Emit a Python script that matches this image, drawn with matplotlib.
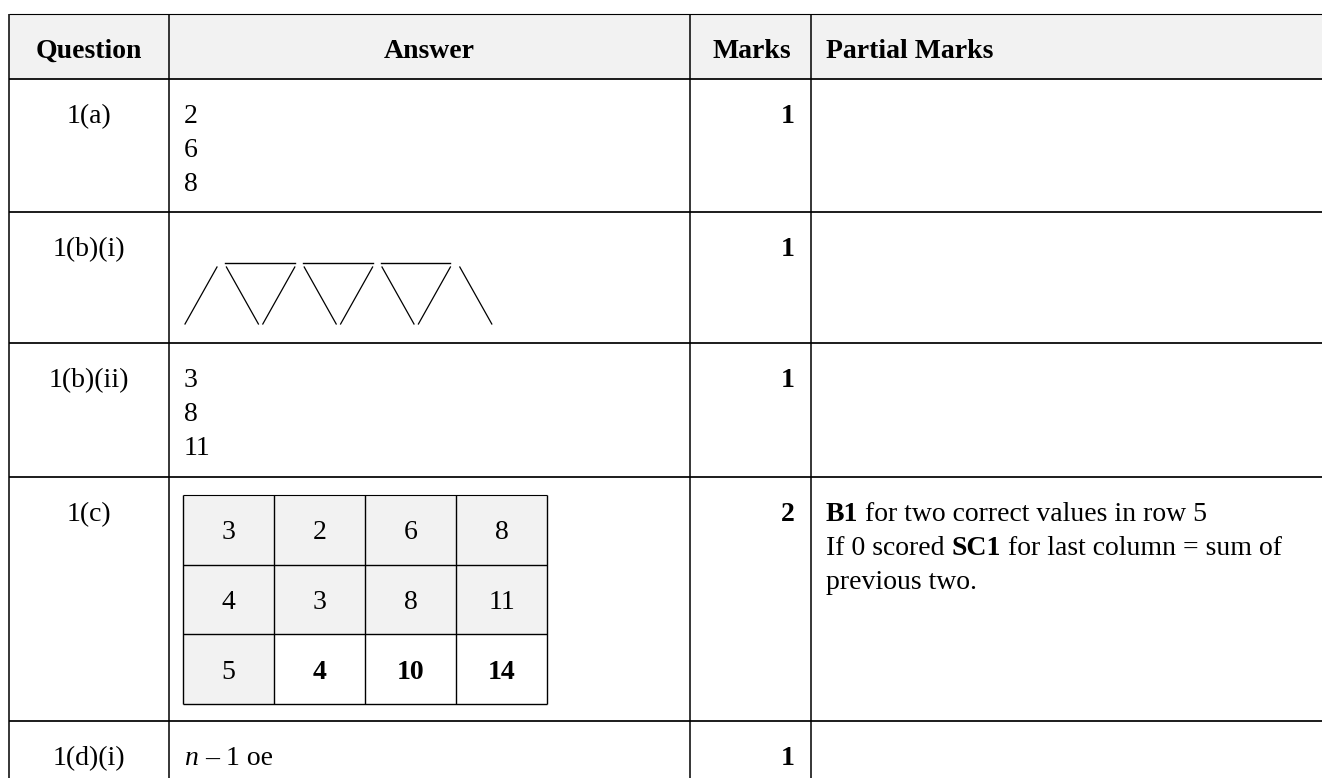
import matplotlib
matplotlib.use("Agg")
import matplotlib.pyplot as plt
from matplotlib.patches import Rectangle

# ---------------- data ----------------
headers = ["Question", "Answer", "Marks", "Partial Marks"]
questions = ["1(a)", "1(b)(i)", "1(b)(ii)", "1(c)", "1(d)(i)"]
answers_1a = ["2", "6", "8"]
answers_1bii = ["3", "8", "11"]
marks = ["1", "1", "1", "2", "1"]
grid_values = [["3", "2", "6", "8"],
               ["4", "3", "8", "11"],
               ["5", "4", "10", "14"]]
grid_given = [[True, True, True, True],
              [True, True, True, True],
              [True, False, False, False]]
partial_1c = [[("B1", "bold"), (" for two correct values in row 5", "normal")],
              [("If 0 scored ", "normal"), ("SC1", "bold"), (" for last column = sum of", "normal")],
              [("previous two.", "normal")]]
answer_1di = [("n", "italic"), (" \u2013 1 oe", "normal")]
n_sticks = 8          # slanted matchsticks in 1(b)(i)
n_bars = 3            # horizontal matchsticks

# ---------------- figure ----------------
W, H = 1322, 778
fig = plt.figure(figsize=(W / 100, H / 100), dpi=100)
ax = fig.add_axes([0, 0, 1, 1])
ax.set_xlim(0, W)
ax.set_ylim(H, 0)
ax.axis("off")

FONT = "Liberation Serif"
FS = 20
SHADE = "#f2f2f2"

x_left, x_c1, x_c2, x_c3, x_right = 9, 169, 690, 811, W
y_top, y_head = 14, 79
row_tops = [79, 212, 343, 477, 721]
BASE = 44
LINE = 34

# header shading
ax.add_patch(Rectangle((x_left, y_top), x_right - x_left, y_head - y_top,
                       facecolor=SHADE, edgecolor="none", zorder=0))

# grid lines
ax.plot([x_left, x_right], [y_top, y_top], color="black", lw=0.8, solid_capstyle="butt")
for y in row_tops:
    ax.plot([x_left, x_right], [y, y], color="black", lw=1.25, solid_capstyle="butt")
for x in (x_left, x_c1, x_c2, x_c3):
    ax.plot([x, x], [y_top, H], color="black", lw=1.1, solid_capstyle="butt")

# header text
hb = 58
ax.text((x_left + x_c1) / 2, hb, headers[0], family=FONT, fontsize=FS, weight="bold",
        ha="center", va="baseline")
ax.text((x_c1 + x_c2) / 2, hb, headers[1], family=FONT, fontsize=FS, weight="bold",
        ha="center", va="baseline")
ax.text(x_c3 - 20, hb, headers[2], family=FONT, fontsize=FS, weight="bold",
        ha="right", va="baseline")
ax.text(x_c3 + 15, hb, headers[3], family=FONT, fontsize=FS, weight="bold",
        ha="left", va="baseline")

# question labels and marks
for i, (q, m) in enumerate(zip(questions, marks)):
    yb = row_tops[i] + BASE
    ax.text((x_left + x_c1) / 2, yb, q, family=FONT, fontsize=FS, ha="center", va="baseline")
    ax.text(x_c3 - 16, yb, m, family=FONT, fontsize=FS, weight="bold", ha="right", va="baseline")

ax_x = x_c1 + 15
# 1(a)
for j, s in enumerate(answers_1a):
    ax.text(ax_x, row_tops[0] + BASE + j * LINE, s, family=FONT, fontsize=FS, va="baseline")
# 1(b)(ii)
for j, s in enumerate(answers_1bii):
    ax.text(ax_x, row_tops[2] + BASE + j * LINE, s, family=FONT, fontsize=FS, va="baseline")

# 1(b)(i) matchstick pattern
step, dx = 38.9, 32
y_hi, y_lo, y_bar = 267, 324, 263
tops = []
for k in range(n_sticks):
    left = 185 + k * step + (2.5 if k % 2 else 0)
    if k % 2 == 0:   # '/'
        xs, ys = [left, left + dx], [y_lo, y_hi]
        tops.append(left + dx)
    else:            # '\'
        xs, ys = [left, left + dx], [y_hi, y_lo]
        tops.append(left)
    ax.plot(xs, ys, color="black", lw=0.9)
for j in range(n_bars):
    ax.plot([tops[2 * j + 1] - 1, tops[2 * j + 2]], [y_bar, y_bar], color="black", lw=1.0)

fig.canvas.draw()
renderer = fig.canvas.get_renderer()


def rich_line(x, y, parts):
    for txt, style in parts:
        kw = dict(family=FONT, fontsize=FS, va="baseline", ha="left")
        if style == "bold":
            kw["weight"] = "bold"
        elif style == "italic":
            kw["style"] = "italic"
        lead = len(txt) - len(txt.lstrip(" "))
        body = txt.strip(" ")
        x += lead * 7
        t = ax.text(x, y, body, **kw)
        w = t.get_window_extent(renderer).width
        x += w
        trail = len(txt) - len(txt.rstrip(" "))
        x += trail * 7


# 1(c) partial marks
for j, parts in enumerate(partial_1c):
    rich_line(x_c3 + 15, row_tops[3] + BASE + j * LINE, parts)

# 1(d)(i)
rich_line(ax_x, row_tops[4] + BASE, answer_1di)

# 1(c) inner grid
gx0, gy0 = 183, 495
cw, ch = 91, 69.7
nr, nc = len(grid_values), len(grid_values[0])
for r in range(nr):
    for c in range(nc):
        x0 = gx0 + c * cw
        y0 = gy0 + r * ch
        if grid_given[r][c]:
            ax.add_patch(Rectangle((x0, y0), cw, ch, facecolor=SHADE, edgecolor="none", zorder=0))
        ax.text(x0 + cw / 2, y0 + ch / 2 + 9.5, grid_values[r][c], family=FONT, fontsize=FS,
                weight="normal" if grid_given[r][c] else "bold", ha="center", va="baseline")
ax.plot([gx0, gx0 + nc * cw], [gy0, gy0], color="black", lw=0.8, solid_capstyle="butt")
for r in range(1, nr + 1):
    y = gy0 + r * ch
    ax.plot([gx0, gx0 + nc * cw], [y, y], color="black", lw=1.0, solid_capstyle="butt")
for c in range(nc + 1):
    x = gx0 + c * cw
    ax.plot([x, x], [gy0, gy0 + nr * ch], color="black", lw=1.0, solid_capstyle="butt")

fig.savefig("out.png", dpi=100, facecolor="white")
